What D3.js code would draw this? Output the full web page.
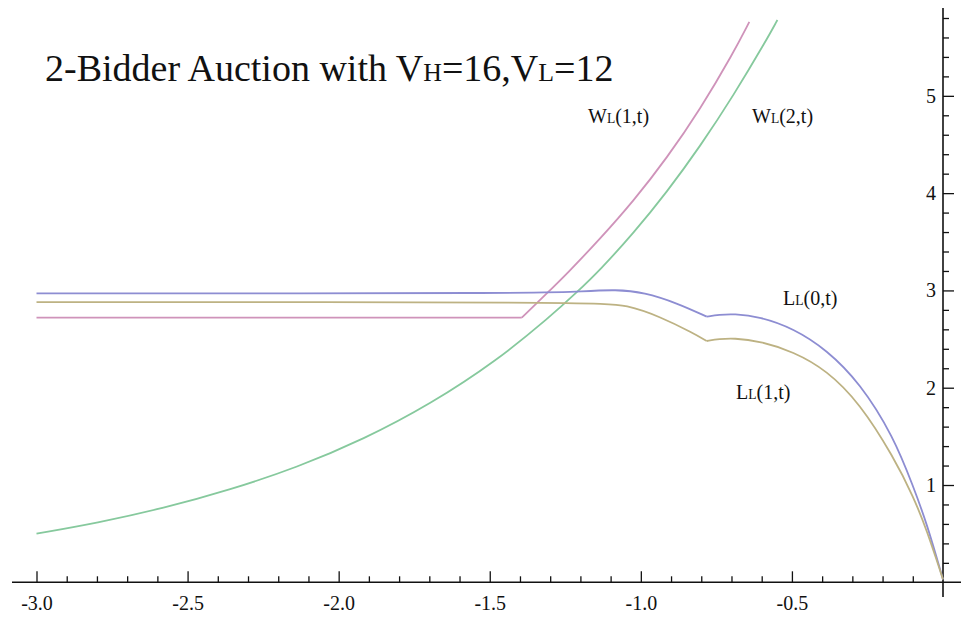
<!DOCTYPE html>
<html>
<head>
<meta charset="utf-8">
<script src="https://cdn.jsdelivr.net/npm/d3@7"></script>
<style>
  body { margin: 0; background: #fff; }
</style>
</head>
<body>
<div id="chart"></div>
<script>
// data: [t, value]
const wL1 = [[-3, 2.72], [-1.394, 2.72], [-1.311, 2.97], [-1.245, 3.17], [-1.135, 3.53], [-1.024, 3.92],
  [-0.914, 4.36], [-0.804, 4.86], [-0.694, 5.44], [-0.641, 5.76]]
const wL2 = [[-3, 0.50], [-2.8, 0.61], [-2.58, 0.76], [-2.359, 0.95], [-2.138, 1.18], [-1.917, 1.47],
  [-1.697, 1.83], [-1.476, 2.28], [-1.30, 2.73], [-1.212, 2.98], [-1.135, 3.21], [-1.024, 3.59],
  [-0.914, 4.01], [-0.804, 4.48], [-0.694, 5.00], [-0.583, 5.58], [-0.548, 5.78]]
const lL0 = [[-3, 2.97], [-1.3, 2.97], [-1.2, 2.99], [-1.08, 3.01], [-0.99, 2.98], [-0.88, 2.87],
  [-0.782, 2.73], [-0.74, 2.75], [-0.694, 2.76], [-0.606, 2.73], [-0.495, 2.61], [-0.385, 2.39],
  [-0.275, 2.05], [-0.164, 1.50], [-0.098, 0.98], [-0.054, 0.61], [0, 0.03]]
const lL1 = [[-3, 2.88], [-1.15, 2.88], [-1.046, 2.85], [-0.936, 2.73], [-0.826, 2.56], [-0.782, 2.48],
  [-0.74, 2.50], [-0.694, 2.51], [-0.606, 2.48], [-0.495, 2.37], [-0.385, 2.18], [-0.275, 1.84],
  [-0.164, 1.29], [-0.098, 0.88], [-0.054, 0.54], [0, 0.03]]

// kinks where the curve is not smooth
const kinksWL1 = [-1.394]
const kinksL = [-0.782]

const xMajor = [-3, -2.5, -2, -1.5, -1, -0.5]
const yMajor = [1, 2, 3, 4, 5]

const font = '"Liberation Serif", "DejaVu Serif", serif'
const width = 961
const height = 624

const svg = d3.select('#chart')
  .append('svg')
  .attr('width', width)
  .attr('height', height)

const x = d3.scaleLinear().domain([-3, 0]).range([36.5, 943])
const y = d3.scaleLinear().domain([0, 5.8]).range([582.3, 18])

// x minor ticks every 0.1, y minor every 0.2
const xMinor = d3.range(-30, 0).map(d => d / 10).filter(d => !xMajor.some(m => Math.abs(m - d) < 1e-9))
const yMinor = d3.range(1, 30).map(d => d / 5).filter(d => !yMajor.some(m => Math.abs(m - d) < 1e-9))

//----------------------------------------------------------------------------
// axes
const gx = svg.append('g').attr('transform', `translate(0,${y(0)})`)
gx.append('g').call(d3.axisBottom(x).tickValues(xMinor).tickSize(-6).tickFormat(''))
gx.append('g').call(d3.axisBottom(x).tickValues(xMajor).tickSize(-11).tickPadding(14)
  .tickFormat(d => d.toFixed(1)))

const gy = svg.append('g').attr('transform', `translate(${x(0)},0)`)
gy.append('g').call(d3.axisLeft(y).tickValues(yMinor).tickSize(-6).tickFormat(''))
gy.append('g').call(d3.axisLeft(y).tickValues(yMajor).tickSize(-11).tickPadding(7).tickFormat(d => d))

svg.selectAll('.domain').remove()
svg.selectAll('.tick line').attr('stroke', '#111').attr('stroke-width', 1.3)
svg.selectAll('.tick text')
  .attr('font-family', font)
  .attr('font-size', 20)
  .attr('fill', '#111')

svg.append('line').attr('x1', 12).attr('x2', width).attr('y1', y(0)).attr('y2', y(0))
  .attr('stroke', '#111').attr('stroke-width', 1.6)
svg.append('line').attr('x1', x(0)).attr('x2', x(0)).attr('y1', 8).attr('y2', 597)
  .attr('stroke', '#111').attr('stroke-width', 1.6)

//----------------------------------------------------------------------------
// curves, split at kinks so they stay sharp
const line = d3.line().x(d => x(d[0])).y(d => y(d[1])).curve(d3.curveBasis)

function pieces(pts, kinks) {
  let out = []
  let cur = []
  pts.forEach(p => {
    cur.push(p)
    if (kinks.some(k => Math.abs(k - p[0]) < 1e-9)) {
      out.push(cur)
      cur = [p]
    }
  })
  out.push(cur)
  return out
}

const series = [
  { pts: wL1, kinks: kinksWL1, color: '#cf93ba' },
  { pts: wL2, kinks: [], color: '#86c99d' },
  { pts: lL0, kinks: kinksL, color: '#8d8dd2' },
  { pts: lL1, kinks: kinksL, color: '#bdb283' }
]

series.forEach(s => {
  svg.append('g').selectAll('path')
    .data(pieces(s.pts, s.kinks))
    .join('path')
    .attr('d', line)
    .attr('fill', 'none')
    .attr('stroke', s.color)
    .attr('stroke-width', 1.8)
})

//----------------------------------------------------------------------------
// text
function label(px, py, size, parts) {
  const t = svg.append('text')
    .attr('x', px).attr('y', py)
    .attr('font-family', font)
    .attr('font-size', size)
    .attr('fill', '#111')
  parts.forEach(p => {
    if (p.sub) {
      t.append('tspan').attr('font-size', size * 0.68).text(p.s)
    } else {
      t.append('tspan').text(p.s)
    }
  })
  return t
}

label(45, 81, 38, [{ s: '2-Bidder Auction with V' }, { s: 'H', sub: true }, { s: '=16,V' },
  { s: 'L', sub: true }, { s: '=12' }])

label(588, 123, 20, [{ s: 'W' }, { s: 'L', sub: true }, { s: '(1,t)' }])
label(752, 123, 20, [{ s: 'W' }, { s: 'L', sub: true }, { s: '(2,t)' }])
label(783, 305, 20, [{ s: 'L' }, { s: 'L', sub: true }, { s: '(0,t)' }])
label(736, 399, 20, [{ s: 'L' }, { s: 'L', sub: true }, { s: '(1,t)' }])
</script>
</body>
</html>
